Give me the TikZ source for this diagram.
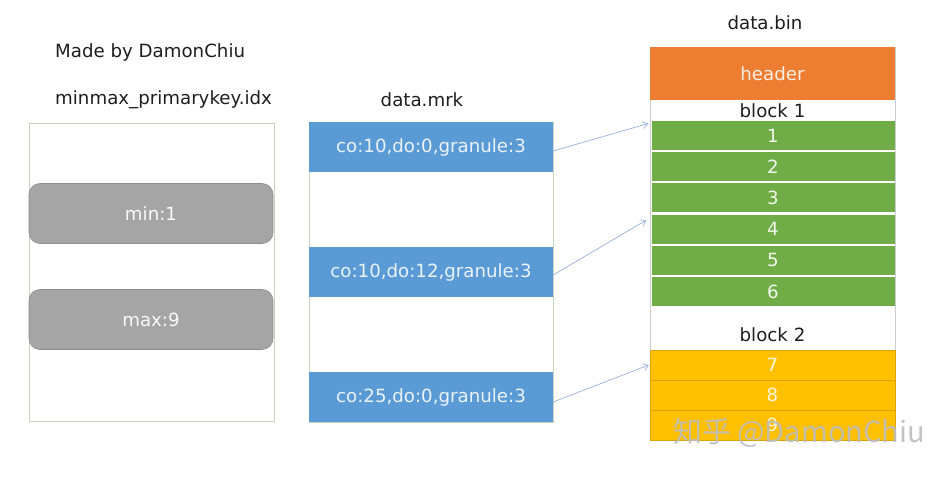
\documentclass[tikz,border=0pt]{standalone}
\usepackage{fontspec}
\setmainfont{DejaVu Sans}
\newfontfamily\cjkfont{Noto Sans CJK SC}
\usetikzlibrary{arrows.meta}
\definecolor{txt}{HTML}{1E1E1E}
\definecolor{boxline}{HTML}{C9D2BC}
\definecolor{graybox}{HTML}{A5A5A5}
\definecolor{graybd}{HTML}{8E8E8E}
\definecolor{mrkblue}{HTML}{5B9BD5}
\definecolor{mrktxt}{HTML}{EAF2FB}
\definecolor{hdr}{HTML}{ED7D31}
\definecolor{grn}{HTML}{70AD47}
\definecolor{ylw}{HTML}{FFC000}
\definecolor{ylwbd}{HTML}{D9A300}
\definecolor{arr}{HTML}{9AB0D8}
\definecolor{wm}{HTML}{BDBDBD}
\newcommand\fsz{\fontsize{18.2}{21}\selectfont}
\tikzset{
  lbl/.style={text=txt, font=\fsz, inner sep=0pt},
  frame/.style={draw=boxline, line width=0.8pt, fill=white, inner sep=0pt},
  pill/.style={draw=graybd, fill=graybox, rounded corners=11pt, line width=0.6pt,
    minimum width=244pt, minimum height=60pt, inner sep=0pt,
    text=white!95!gray, font=\fsz},
  mrkbox/.style={fill=mrkblue, minimum width=244pt, minimum height=50pt, inner sep=0pt,
    text=mrktxt, font=\fsz},
  hdrbox/.style={fill=hdr, minimum width=245pt, minimum height=53pt, inner sep=0pt,
    text=white!88!hdr, font=\fsz},
  grnrow/.style={fill=grn, minimum width=243pt, minimum height=29pt, inner sep=0pt,
    text=white!90!grn, font=\fsz},
  ylwrow/.style={fill=ylw, draw=ylwbd, line width=0.5pt, minimum width=245pt, minimum height=30pt, inner sep=0pt,
    text=white!85!ylw, font=\fsz},
  link/.style={draw=arr, line width=0.7pt, -{Straight Barb[length=5pt,width=7pt]}}
}
\begin{document}
\begin{tikzpicture}[x=1pt,y=-1pt]
\useasboundingbox (0,0) rectangle (939,478);
% left column
\node[lbl, anchor=west] (made) at (55,52) {Made by DamonChiu};
\node[lbl, anchor=west] (idxlbl) at (55,100) {minmax\_primarykey.idx};
\node[frame, minimum width=245pt, minimum height=298pt] (idx) at (151.5,272) {};
\node[pill] (minb) at (151,213.5) {min:1};
\node[pill] (maxb) at (151,319.5) {max:9};
% middle column
\node[lbl] (mrklbl) at (422,100) {data.mrk};
\node[frame, minimum width=244pt, minimum height=300pt] (mrk) at (431,272) {};
\node[mrkbox] (m1) at (431,147) {co:10,do:0,granule:3};
\node[mrkbox] (m2) at (431,272) {co:10,do:12,granule:3};
\node[mrkbox] (m3) at (431,397) {co:25,do:0,granule:3};
% right column
\node[lbl] (binlbl) at (765,23) {data.bin};
\node[draw=gray!40, line width=0.6pt, fill=white, inner sep=0pt, minimum width=245pt, minimum height=393pt] (bin) at (772.5,243.5) {};
\node[hdrbox] (hdr) at (772.5,73.5) {header};
\node[lbl] (blk1) at (772.5,110.5) {block 1};
\node[grnrow] (r1) at (773,135.5) {1};
\node[grnrow] (r2) at (773,166.7) {2};
\node[grnrow] (r3) at (773,197.9) {3};
\node[grnrow] (r4) at (773,229.1) {4};
\node[grnrow] (r5) at (773,260.3) {5};
\node[grnrow] (r6) at (773,291.5) {6};
\node[lbl] (blk2) at (772.5,335) {block 2};
\node[ylwrow] (r7) at (772.5,365) {7};
\node[ylwrow] (r8) at (772.5,395) {8};
\node[ylwrow] (r9) at (772.5,425) {9};
% connectors
\draw[link] ([yshift=-4pt]m1.east) -- ([xshift=-3pt,yshift=12pt]r1.west);
\draw[link] ([yshift=-3pt]m2.east) -- ([xshift=-5pt,yshift=9pt]r4.west);
\draw[link] ([yshift=-5pt]m3.east) -- ([xshift=-1pt]r7.west);
% watermark
\node[text=wm, opacity=0.9, font=\cjkfont\fontsize{29}{32}\selectfont, inner sep=0pt] (wmk) at (799,433) {知乎 @DamonChiu};
\end{tikzpicture}
\end{document}
